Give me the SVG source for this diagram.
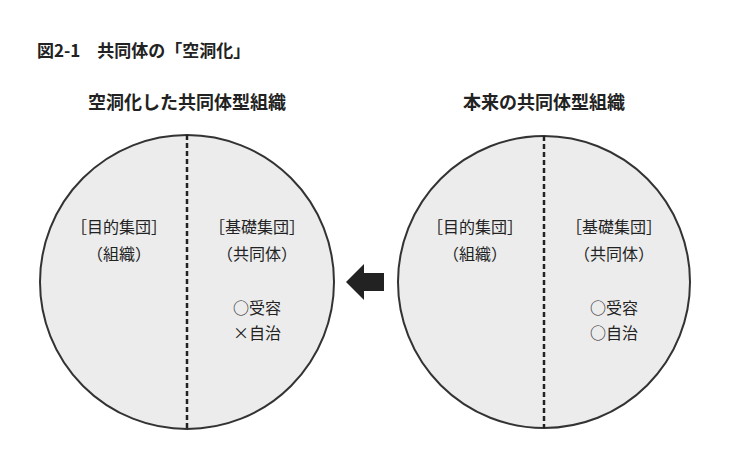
<svg xmlns="http://www.w3.org/2000/svg" width="744" height="453" viewBox="0 0 744 453">
<style>
text{font-family:"Noto Sans CJK JP",sans-serif;fill:#222}
.h{font-weight:bold;font-size:18px;text-anchor:middle}
.t{font-size:16px;text-anchor:middle}
.c{fill:#ececec;stroke:#333;stroke-width:2}
.d{stroke:#222;stroke-width:2.5;stroke-dasharray:5,3}
</style>
<rect width="744" height="453" fill="#fff"/>
<text x="37" y="57" style="font-weight:bold;font-size:17px">図2-1　共同体の「空洞化」</text>
<g id="left">
<text class="h" x="187" y="109">空洞化した共同体型組織</text>
<circle class="c" cx="187" cy="282" r="147"/>
<line class="d" x1="187" y1="135" x2="187" y2="429"/>
<text class="t" x="119" y="233">［目的集団］</text>
<text class="t" x="119" y="260">（組織）</text>
<text class="t" x="257" y="233">［基礎集団］</text>
<text class="t" x="257" y="260">（共同体）</text>
<text class="t" x="257" y="314">○受容</text>
<text class="t" x="257" y="339">×自治</text>
</g>
<g id="right">
<text class="h" x="544" y="109">本来の共同体型組織</text>
<circle class="c" cx="544" cy="282" r="146"/>
<line class="d" x1="544" y1="136" x2="544" y2="428"/>
<text class="t" x="475" y="233">［目的集団］</text>
<text class="t" x="475" y="260">（組織）</text>
<text class="t" x="614" y="233">［基礎集団］</text>
<text class="t" x="614" y="260">（共同体）</text>
<text class="t" x="614" y="314">○受容</text>
<text class="t" x="614" y="339">○自治</text>
</g>
<g id="connectors">
<polygon points="346,282 364,264 364,273 384,273 384,291 364,291 364,300" fill="#222"/>
</g>
</svg>
